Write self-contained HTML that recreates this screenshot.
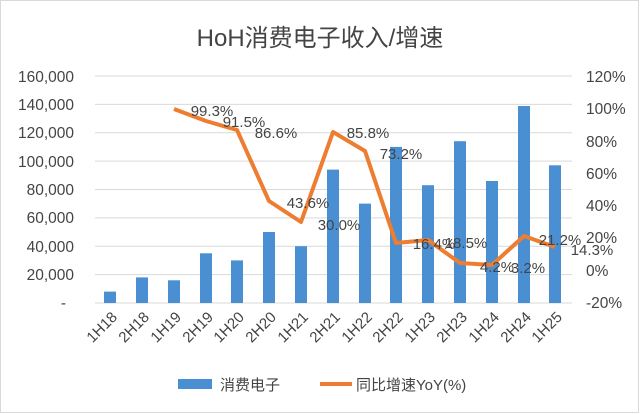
<!DOCTYPE html>
<html><head><meta charset="utf-8"><style>
body{margin:0;background:#fff}
svg{display:block}
text{font-family:"Liberation Sans","Noto Sans CJK SC",sans-serif;fill:#444}
</style></head><body>
<svg width="640" height="414" viewBox="0 0 640 414" xmlns="http://www.w3.org/2000/svg">
<rect x="0.5" y="0.5" width="638" height="412" fill="#fff" stroke="#d9d9d9"/>
<text x="320" y="46" font-size="24" text-anchor="middle" fill="#555">HoH消费电子收入/增速</text>
<g stroke="#d9d9d9" stroke-width="1">
<line x1="95" x2="572" y1="76" y2="76"/><line x1="95" x2="572" y1="104.4" y2="104.4"/>
<line x1="95" x2="572" y1="132.8" y2="132.8"/><line x1="95" x2="572" y1="161.1" y2="161.1"/>
<line x1="95" x2="572" y1="189.5" y2="189.5"/><line x1="95" x2="572" y1="217.9" y2="217.9"/>
<line x1="95" x2="572" y1="246.3" y2="246.3"/><line x1="95" x2="572" y1="274.6" y2="274.6"/>
<line x1="95" x2="572" y1="303" y2="303"/>
</g>
<g font-size="15.5" text-anchor="end">
<text x="74" y="82">160,000</text><text x="74" y="110">140,000</text><text x="74" y="138">120,000</text>
<text x="74" y="167">100,000</text><text x="74" y="195">80,000</text><text x="74" y="223">60,000</text>
<text x="74" y="252">40,000</text><text x="74" y="280">20,000</text><text x="66" y="308">-</text>
</g>
<g font-size="15.5">
<text x="586" y="82">120%</text><text x="586" y="114">100%</text><text x="586" y="147">80%</text>
<text x="586" y="179">60%</text><text x="586" y="211">40%</text><text x="586" y="243">20%</text>
<text x="586" y="276">0%</text><text x="586" y="308">-20%</text>
</g>
<g fill="#4a8fd2">
<rect x="104" y="291.6" width="12" height="11.4"/>
<rect x="136" y="277.4" width="12" height="25.6"/>
<rect x="168" y="280.3" width="12" height="22.7"/>
<rect x="200" y="253.3" width="12" height="49.7"/>
<rect x="231" y="260.4" width="12" height="42.6"/>
<rect x="263" y="232" width="12" height="71"/>
<rect x="295" y="246.2" width="12" height="56.8"/>
<rect x="327" y="169.6" width="12" height="133.4"/>
<rect x="359" y="203.6" width="12" height="99.4"/>
<rect x="390" y="146.9" width="12" height="156.1"/>
<rect x="422" y="185.2" width="12" height="117.8"/>
<rect x="454" y="141.2" width="12" height="161.8"/>
<rect x="486" y="181" width="12" height="122"/>
<rect x="518" y="106" width="12" height="197"/>
<rect x="549" y="165.3" width="12" height="137.7"/>
</g>
<polyline fill="none" stroke="#ed7d31" stroke-width="4" stroke-linejoin="round"
points="174,109 206,121 237,130 269,201 301,222 333,132 365,151 396,243 428,240 460,263 492,265 524,236 555,247"/>
<g font-size="15" text-anchor="middle" fill="#333">
<text x="212" y="116">99.3%</text><text x="244" y="127">91.5%</text>
<text x="276" y="138">86.6%</text><text x="308" y="208">43.6%</text>
<text x="339" y="230">30.0%</text><text x="368" y="138">85.8%</text>
<text x="401" y="159">73.2%</text><text x="434" y="249">16.4%</text>
<text x="466" y="248">18.5%</text><text x="497" y="272">4.2%</text>
<text x="528" y="273">3.2%</text><text x="560" y="245">21.2%</text>
<text x="592" y="255">14.3%</text>
</g>
<g font-size="15" text-anchor="end">
<text transform="translate(118,318) rotate(-45)">1H18</text>
<text transform="translate(150,318) rotate(-45)">2H18</text>
<text transform="translate(182,318) rotate(-45)">1H19</text>
<text transform="translate(214,318) rotate(-45)">2H19</text>
<text transform="translate(245,318) rotate(-45)">1H20</text>
<text transform="translate(277,318) rotate(-45)">2H20</text>
<text transform="translate(309,318) rotate(-45)">1H21</text>
<text transform="translate(341,318) rotate(-45)">2H21</text>
<text transform="translate(373,318) rotate(-45)">1H22</text>
<text transform="translate(404,318) rotate(-45)">2H22</text>
<text transform="translate(436,318) rotate(-45)">1H23</text>
<text transform="translate(468,318) rotate(-45)">2H23</text>
<text transform="translate(500,318) rotate(-45)">1H24</text>
<text transform="translate(532,318) rotate(-45)">2H24</text>
<text transform="translate(563,318) rotate(-45)">1H25</text>
</g>
<rect x="178" y="379" width="34" height="10" fill="#4a8fd2"/>
<text x="220" y="390" font-size="15">消费电子</text>
<line x1="320" x2="352" y1="384" y2="384" stroke="#ed7d31" stroke-width="4"/>
<text x="356" y="390" font-size="15">同比增速YoY(%)</text>
</svg>
</body></html>
